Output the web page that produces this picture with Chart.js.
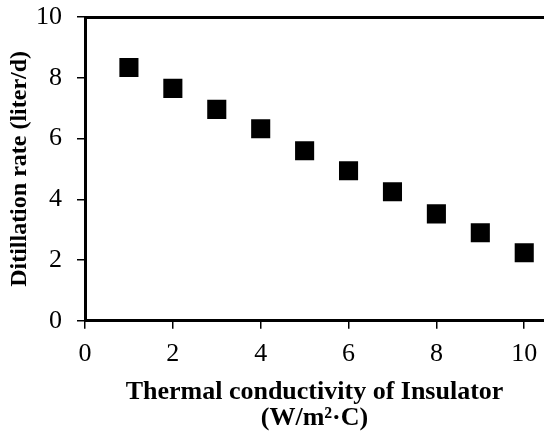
<!DOCTYPE html>
<html>
<head>
<meta charset="utf-8">
<script src="https://cdn.jsdelivr.net/npm/chart.js@4/dist/chart.umd.min.js"></script>
<style>
  html, body { margin: 0; padding: 0; background: #fff; }
  #wrap { width: 544px; height: 437px; }
</style>
</head>
<body>
<div id="wrap"><canvas id="DiagramSebar"></canvas></div>
<script>
// data
const conductivity = [1, 2, 3, 4, 5, 6, 7, 8, 9, 10];
const distillRate = [8.34, 7.65, 6.96, 6.32, 5.6, 4.94, 4.25, 3.52, 2.9, 2.24];
const xTicks = [0, 2, 4, 6, 8, 10];
const yTicks = [0, 2, 4, 6, 8, 10];

const serif = "'Liberation Serif', 'Times New Roman', serif";
const ctx = document.getElementById("DiagramSebar");

new Chart(ctx, {
  type: "scatter",
  data: {
    datasets: [
      {
        data: conductivity.map((x, i) => ({ x: x, y: distillRate[i] })),
        pointStyle: "rect",
        pointRadius: 13.5,
        pointHoverRadius: 13.5,
        borderWidth: 0,
        backgroundColor: "#000",
        borderColor: "#000",
      },
    ],
  },
  options: {
    responsive: true,
    maintainAspectRatio: false,
    animation: false,
    layout: { autoPadding: false, padding: { top: 0, right: 0, left: 8, bottom: 6 } },
    plugins: { legend: { display: false }, tooltip: { enabled: false } },
    scales: {
      x: {
        type: "linear",
        min: 0,
        max: 10.45,
        afterBuildTicks: (s) => { s.ticks = xTicks.map((v) => ({ value: v })); },
        // chart.js reserves the tick padding twice, drop the extra one
        afterFit: (s) => { s.paddingRight = 0; s.paddingLeft = 0; s.height -= 10; },
        border: { display: true, color: "#000", width: 3 },
        grid: { drawOnChartArea: false, drawTicks: true, tickLength: 8, color: "#000", lineWidth: 1.5 },
        ticks: { color: "#000", font: { family: serif, size: 26 }, padding: 10, maxRotation: 0 },
        title: {
          display: true,
          text: ["Thermal conductivity of Insulator", "(W/m\u00b2\u00b7C)"],
          color: "#000",
          font: { family: serif, size: 26, weight: "bold", lineHeight: 1.0 },
          padding: { top: 9, bottom: 0 },
        },
      },
      x2: {
        type: "linear",
        position: "top",
        min: 0,
        max: 10.45,
        afterFit: (s) => { s.height = 0; s.paddingLeft = 0; s.paddingRight = 0; },
        border: { display: true, color: "#000", width: 3 },
        grid: { display: false, drawTicks: false },
        ticks: { display: false },
      },
      y: {
        min: 0,
        max: 10,
        afterBuildTicks: (s) => { s.ticks = yTicks.map((v) => ({ value: v })); },
        afterFit: (s) => { s.paddingTop = 17; s.width -= 15; },
        border: { display: true, color: "#000", width: 3 },
        grid: { drawOnChartArea: false, drawTicks: true, tickLength: 8, color: "#000", lineWidth: 1.5 },
        ticks: { color: "#000", font: { family: serif, size: 26 }, padding: 15 },
        title: {
          display: true,
          text: "Ditillation rate (liter/d)",
          color: "#000",
          font: { family: serif, size: 24, weight: "bold", lineHeight: 1 },
          padding: { top: 0, bottom: 4 },
        },
      },
    },
  },
});
</script>
</body>
</html>
